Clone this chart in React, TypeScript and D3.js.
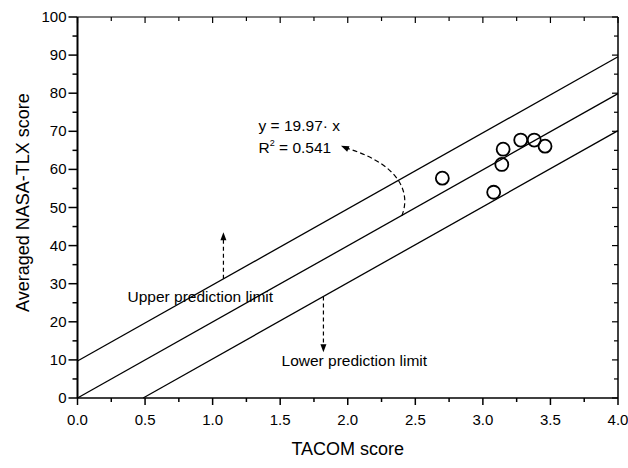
import * as d3 from "d3";
import React, { useEffect, useRef } from "react";

// TACOM vs NASA-TLX observations
const tacom = [2.7, 3.08, 3.14, 3.15, 3.28, 3.38, 3.46];
const tlx = [57.7, 54.0, 61.3, 65.3, 67.7, 67.7, 66.1];

// regression through origin and prediction band half-width
const slope = 19.97;
const band = 9.7;

const xTicks = [0, 0.5, 1, 1.5, 2, 2.5, 3, 3.5, 4];
const yTicks = [0, 10, 20, 30, 40, 50, 60, 70, 80, 90, 100];

function App() {
  const ref = useRef<SVGSVGElement>(null);

  useEffect(() => {
    const svg = d3.select(ref.current);
    svg.selectAll("*").remove();

    const margin = { top: 17, right: 10, bottom: 70, left: 77.5 },
      width = 628 - margin.left - margin.right,
      height = 468 - margin.top - margin.bottom;

    const x = d3.scaleLinear().domain([0, 4]).range([0, width]);
    const y = d3.scaleLinear().domain([0, 100]).range([height, 0]);

    const g = svg
      .append("g")
      .attr("transform", "translate(" + margin.left + "," + margin.top + ")");

    const font = "Arial, 'Liberation Sans', sans-serif";
    const xMinor = d3.range(0, 4.001, 0.25);
    const yMinor = d3.range(0, 100.1, 5);

    // frame: top and right with inward ticks
    g.append("line")
      .attr("x1", 0).attr("x2", width).attr("y1", 0).attr("y2", 0)
      .attr("stroke", "#000").attr("stroke-width", 1.2);
    g.append("line")
      .attr("x1", width).attr("x2", width).attr("y1", 0).attr("y2", height)
      .attr("stroke", "#000").attr("stroke-width", 1.5);

    g.selectAll(".topTick")
      .data(xMinor)
      .enter()
      .append("line")
      .attr("x1", (d) => x(d)).attr("x2", (d) => x(d))
      .attr("y1", 0)
      .attr("y2", (d, i) => (i % 2 === 0 ? 6 : 4))
      .attr("stroke", "#000").attr("stroke-width", 1.2);

    g.selectAll(".rightTick")
      .data(yMinor)
      .enter()
      .append("line")
      .attr("y1", (d) => y(d)).attr("y2", (d) => y(d))
      .attr("x1", width)
      .attr("x2", (d, i) => width - (i % 2 === 0 ? 6 : 4))
      .attr("stroke", "#000").attr("stroke-width", 1.2);

    // bottom axis
    g.append("line")
      .attr("x1", 0).attr("x2", width).attr("y1", height).attr("y2", height)
      .attr("stroke", "#000").attr("stroke-width", 1.5);
    g.selectAll(".bTick")
      .data(xMinor)
      .enter()
      .append("line")
      .attr("x1", (d) => x(d)).attr("x2", (d) => x(d))
      .attr("y1", height)
      .attr("y2", (d, i) => height + (i % 2 === 0 ? 7 : 4))
      .attr("stroke", "#000").attr("stroke-width", 1.5);
    g.selectAll(".bLabel")
      .data(xTicks)
      .enter()
      .append("text")
      .attr("x", (d) => x(d))
      .attr("y", height + 27)
      .attr("text-anchor", "middle")
      .attr("font-family", font)
      .attr("font-size", "15px")
      .text((d) => d3.format(".1f")(d));

    // left axis
    g.append("line")
      .attr("x1", 0).attr("x2", 0).attr("y1", 0).attr("y2", height)
      .attr("stroke", "#000").attr("stroke-width", 2);
    g.selectAll(".lTick")
      .data(yMinor)
      .enter()
      .append("line")
      .attr("y1", (d) => y(d)).attr("y2", (d) => y(d))
      .attr("x1", 0)
      .attr("x2", (d, i) => (i % 2 === 0 ? -9 : -5))
      .attr("stroke", "#000").attr("stroke-width", 1.5);
    g.selectAll(".lLabel")
      .data(yTicks)
      .enter()
      .append("text")
      .attr("x", -11)
      .attr("y", (d) => y(d) + 5)
      .attr("text-anchor", "end")
      .attr("font-family", font)
      .attr("font-size", "15px")
      .text((d) => d);

    // axis titles
    svg
      .append("text")
      .attr("x", margin.left + x(2))
      .attr("y", 455)
      .attr("text-anchor", "middle")
      .attr("font-family", font)
      .attr("font-size", "18px")
      .text("TACOM score");
    svg
      .append("text")
      .attr("transform", "translate(29," + (margin.top + y(50) - 5) + ") rotate(-90)")
      .attr("text-anchor", "middle")
      .attr("font-family", font)
      .attr("font-size", "18px")
      .text("Averaged NASA-TLX score");

    // regression and prediction lines
    const fits = [
      { b: band, x0: 0 },
      { b: 0, x0: 0 },
      { b: -band, x0: band / slope },
    ];
    fits.forEach((f) => {
      g.append("line")
        .attr("x1", x(f.x0))
        .attr("y1", y(slope * f.x0 + f.b))
        .attr("x2", x(4))
        .attr("y2", y(slope * 4 + f.b))
        .attr("stroke", "#000")
        .attr("stroke-width", 1.3);
    });

    // data points
    g.selectAll(".pt")
      .data(tacom)
      .enter()
      .append("circle")
      .attr("cx", (d) => x(d))
      .attr("cy", (d, i) => y(tlx[i]))
      .attr("r", 6.5)
      .attr("fill", "none")
      .attr("stroke", "#000")
      .attr("stroke-width", 1.8);

    // annotations
    const txt = (xv: number, yv: number, s: string) =>
      g
        .append("text")
        .attr("x", x(xv))
        .attr("y", y(yv))
        .attr("font-family", font)
        .attr("font-size", "15.5px")
        .text(s);

    txt(1.34, 70.2, "y = 19.97\u00b7  x");
    const r2 = txt(1.34, 64.4, "R");
    r2.append("tspan").attr("dy", -7).attr("font-size", "9px").text("2");
    r2.append("tspan").attr("dy", 7).text(" = 0.541");
    txt(0.37, 25.3, "Upper prediction limit");
    txt(1.51, 8.4, "Lower prediction limit");

    const arrowHead = (tx: number, ty: number, angle: number) => {
      const len = 8,
        w = 3;
      g.append("path")
        .attr("d", `M0,0 L${-len},${-w} L${-len},${w} Z`)
        .attr("transform", `translate(${tx},${ty}) rotate(${angle})`)
        .attr("fill", "#000");
    };

    // upper limit arrow
    const ux = 1.08;
    g.append("line")
      .attr("x1", x(ux)).attr("x2", x(ux))
      .attr("y1", y(slope * ux + band))
      .attr("y2", y(43.5) + 6)
      .attr("stroke", "#000").attr("stroke-width", 1.2)
      .attr("stroke-dasharray", "4,3");
    arrowHead(x(ux), y(43.5), -90);

    // lower limit arrow
    const lx = 1.82;
    g.append("line")
      .attr("x1", x(lx)).attr("x2", x(lx))
      .attr("y1", y(slope * lx - band))
      .attr("y2", y(12.0) - 6)
      .attr("stroke", "#000").attr("stroke-width", 1.2)
      .attr("stroke-dasharray", "4,3");
    arrowHead(x(lx), y(12.0), 90);

    // curved arrow to the equation
    const p0 = [x(2.4), y(47.8)],
      c1 = [x(2.46), y(53.0)],
      c2 = [x(2.42), y(60.9)],
      p1 = [x(1.99), y(65.6)];
    g.append("path")
      .attr(
        "d",
        `M${p0[0]},${p0[1]} C${c1[0]},${c1[1]} ${c2[0]},${c2[1]} ${p1[0]},${p1[1]}`
      )
      .attr("fill", "none")
      .attr("stroke", "#000")
      .attr("stroke-width", 1.2)
      .attr("stroke-dasharray", "5,3");
    const tip = [x(1.95), y(66.2)];
    const ang = (Math.atan2(tip[1] - p1[1], tip[0] - p1[0]) * 180) / Math.PI;
    arrowHead(tip[0], tip[1], ang);
  }, []);

  return (
    <svg
      ref={ref}
      width={628}
      height={468}
      style={{ position: "absolute", left: 0, top: 0, background: "#fff" }}
    />
  );
}

export default App;
